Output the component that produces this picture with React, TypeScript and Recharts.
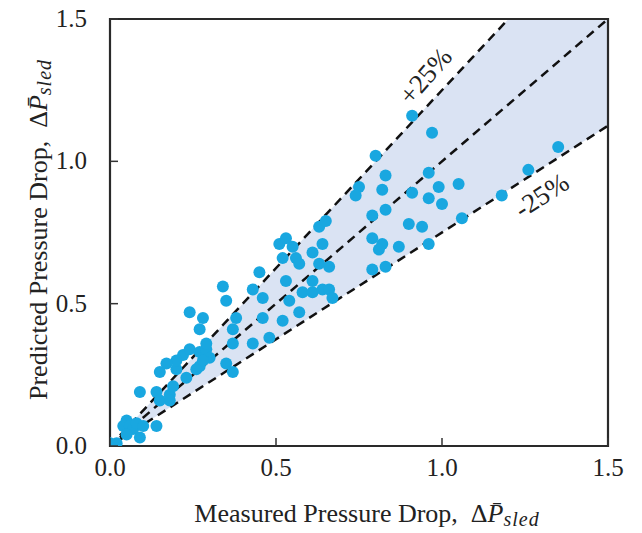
import React from "react";
import {
  ComposedChart,
  XAxis,
  YAxis,
  Scatter,
  Area,
  ReferenceLine,
  ReferenceArea,
  ReferenceDot,
} from "recharts";

// Measured pressure drop (x) and predicted pressure drop (y)
const measured = [
  0.00, 0.02, 0.05, 0.04, 0.06, 0.07, 0.05, 0.09, 0.08, 0.10,
  0.14, 0.09, 0.14, 0.15, 0.18, 0.18, 0.19, 0.23, 0.20, 0.22,
  0.20, 0.24, 0.17, 0.15, 0.27, 0.26, 0.27, 0.29, 0.30, 0.28,
  0.29, 0.27, 0.37, 0.35, 0.37, 0.51, 0.53, 0.55, 0.52, 0.56,
  0.57, 0.45, 0.53, 0.58, 0.34, 0.43, 0.46, 0.35, 0.54, 0.57,
  0.24, 0.28, 0.38, 0.46, 0.52, 0.37, 0.48, 0.43, 0.79, 0.83,
  0.63, 0.65, 0.64, 0.61, 0.63, 0.66, 0.79, 0.82, 0.81, 0.87,
  0.79, 0.83, 0.61, 0.61, 0.64, 0.66, 0.67, 0.90, 0.80, 0.75,
  0.74, 0.83, 0.82, 0.96, 0.91, 0.99, 1.05, 0.96, 1.00, 0.94,
  1.06, 0.96, 0.91, 0.97, 1.35, 1.26, 1.18,
];
const predicted = [
  0.01, 0.01, 0.09, 0.07, 0.07, 0.06, 0.04, 0.03, 0.08, 0.07,
  0.07, 0.19, 0.19, 0.16, 0.18, 0.16, 0.21, 0.24, 0.27, 0.32,
  0.30, 0.34, 0.29, 0.26, 0.33, 0.27, 0.28, 0.34, 0.31, 0.30,
  0.36, 0.41, 0.36, 0.29, 0.26, 0.71, 0.73, 0.70, 0.66, 0.66,
  0.64, 0.61, 0.58, 0.54, 0.56, 0.55, 0.52, 0.51, 0.51, 0.47,
  0.47, 0.45, 0.45, 0.45, 0.44, 0.41, 0.38, 0.36, 0.81, 0.83,
  0.77, 0.79, 0.71, 0.68, 0.64, 0.63, 0.73, 0.71, 0.69, 0.70,
  0.62, 0.63, 0.58, 0.54, 0.55, 0.55, 0.52, 0.78, 1.02, 0.91,
  0.88, 0.95, 0.90, 0.96, 0.89, 0.91, 0.92, 0.87, 0.85, 0.77,
  0.80, 0.71, 1.16, 1.10, 1.05, 0.97, 0.88,
];

const xTicks = [0, 0.5, 1.0, 1.5];
const yTicks = [0, 0.5, 1.0, 1.5];
const bandX = [0, 1.5];
const upperFactor = 1.25;
const lowerFactor = 0.75;
const lineStart = 0.03;
const axisMax = 1.5;
const upperLabel = "+25%";
const lowerLabel = "-25%";

const points = measured.map((x, i) => ({ x, y: predicted[i] }));
const bandData = bandX.map((x) => ({ x, band: [x * lowerFactor, x * upperFactor] }));

const FONT = "'Liberation Serif', 'Times New Roman', serif";
const TEXT = "#222";
const DOT = "#19a7e0";
const BAND = "#dae3f3";

const XTick = (props: any) => {
  const { x, y, payload } = props;
  return (
    <g>
      <line x1={x} y1={y} x2={x} y2={y - 8} stroke="#333" strokeWidth={1.5} />
      <text x={x} y={y + 30} textAnchor="middle" fontFamily={FONT} fontSize={25} fill={TEXT}>
        {Number(payload.value).toFixed(1)}
      </text>
    </g>
  );
};

const YTick = (props: any) => {
  const { x, y, payload } = props;
  return (
    <g>
      <line x1={x} y1={y} x2={x + 8} y2={y} stroke="#333" strokeWidth={1.5} />
      <text x={x - 23} y={y + 8} textAnchor="end" fontFamily={FONT} fontSize={25} fill={TEXT}>
        {Number(payload.value).toFixed(1)}
      </text>
    </g>
  );
};

const XTitle = (p: any) => {
  const vb = p.viewBox || { x: 0, y: 0, width: 0, height: 0 };
  const cx = vb.x + vb.width / 2 + 8;
  const by = vb.y + 76;
  return (
    <text x={cx} y={by} textAnchor="middle" fontFamily={FONT} fontSize={26} fill={TEXT}>
      {"Measured Pressure Drop,\u00a0\u00a0Δ"}
      <tspan fontStyle="italic">{"P\u0304"}</tspan>
      <tspan fontStyle="italic" fontSize={20} dy={4} letterSpacing={1}>sled</tspan>
    </text>
  );
};

const YTitle = (p: any) => {
  const vb = p.viewBox || { x: 0, y: 0, width: 0, height: 0 };
  const cx = vb.x + 47;
  const cy = vb.y + vb.height / 2 - 3;
  return (
    <text
      x={cx}
      y={cy}
      textAnchor="middle"
      fontFamily={FONT}
      fontSize={26}
      fill={TEXT}
      transform={`rotate(-90, ${cx}, ${cy})`}
    >
      {"Predicted Pressure Drop,\u00a0\u00a0Δ"}
      <tspan fontStyle="italic">{"P\u0304"}</tspan>
      <tspan fontStyle="italic" fontSize={20} dy={4} letterSpacing={1}>sled</tspan>
    </text>
  );
};

const makeRotLabel = (text: string, angle: number) => (p: any) => {
  const vb = p.viewBox || { x: 0, y: 0 };
  const cx = vb.x + (vb.width || 0) / 2;
  const cy = vb.y + (vb.height || 0) / 2;
  return (
    <text
      x={cx}
      y={cy}
      textAnchor="middle"
      dominantBaseline="central"
      fontFamily={FONT}
      fontSize={27}
      fill={TEXT}
      transform={`rotate(${angle}, ${cx}, ${cy})`}
    >
      {text}
    </text>
  );
};

const Dot = (p: any) => <circle cx={p.cx} cy={p.cy} r={6} fill={DOT} />;

export default function App() {
  return (
    <div style={{ position: "absolute", left: 0, top: 0 }}>
      <ComposedChart
        width={642}
        height={533}
        data={bandData}
        margin={{ top: 19, right: 34, left: 0, bottom: 0 }}
      >
        <XAxis
          type="number"
          dataKey="x"
          domain={[0, axisMax]}
          ticks={xTicks}
          allowDataOverflow
          height={87}
          tickSize={0}
          tickMargin={0}
          tickLine={false}
          axisLine={false}
          tick={<XTick />}
          label={{ content: XTitle }}
        />
        <YAxis
          type="number"
          domain={[0, axisMax]}
          ticks={yTicks}
          allowDataOverflow
          width={110}
          tickSize={0}
          tickMargin={0}
          tickLine={false}
          axisLine={false}
          tick={<YTick />}
          label={{ content: YTitle }}
        />
        <Area
          dataKey="band"
          type="linear"
          fill={BAND}
          fillOpacity={1}
          stroke="none"
          isAnimationActive={false}
          activeDot={false}
          dot={false}
        />
        <ReferenceLine
          segment={[{ x: lineStart, y: lineStart }, { x: axisMax, y: axisMax }]}
          stroke="#111"
          strokeWidth={2.5}
          strokeDasharray="9 6"
        />
        <ReferenceLine
          segment={[
            { x: lineStart, y: lineStart * upperFactor },
            { x: axisMax / upperFactor, y: axisMax },
          ]}
          stroke="#111"
          strokeWidth={2.5}
          strokeDasharray="9 6"
        />
        <ReferenceLine
          segment={[
            { x: lineStart, y: lineStart * lowerFactor },
            { x: axisMax, y: axisMax * lowerFactor },
          ]}
          stroke="#111"
          strokeWidth={2.5}
          strokeDasharray="9 6"
        />
        <Scatter data={points} dataKey="y" shape={<Dot />} isAnimationActive={false} />
        <ReferenceDot
          x={0.95}
          y={1.3}
          r={0}
          fill="none"
          stroke="none"
          label={{ content: makeRotLabel(upperLabel, -49) }}
        />
        <ReferenceDot
          x={1.3}
          y={0.88}
          r={0}
          fill="none"
          stroke="none"
          label={{ content: makeRotLabel(lowerLabel, -33) }}
        />
        <ReferenceArea
          x1={0}
          x2={axisMax}
          y1={0}
          y2={axisMax}
          fill="none"
          fillOpacity={0}
          stroke="#2a2a2a"
          strokeWidth={2.2}
        />
      </ComposedChart>
    </div>
  );
}
